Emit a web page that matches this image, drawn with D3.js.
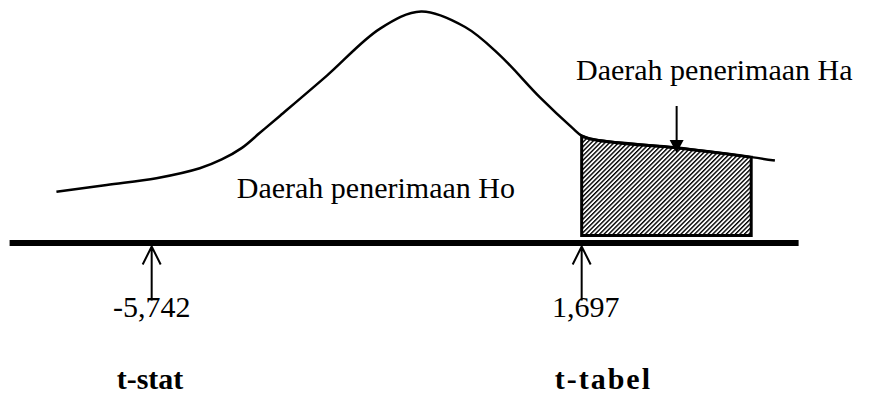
<!DOCTYPE html>
<html>
<head>
<meta charset="utf-8">
<script src="https://cdn.jsdelivr.net/npm/d3@7"></script>
<style>
    body { margin: 0; background: #fff; }
    text { font-family: "Liberation Serif", "Times New Roman", serif; fill: #000; }
</style>
</head>
<body>
<div id="chart"></div>
<script>
// curve of the t distribution sketch (t value, relative height)
var tValues = [-7.39, -6.52, -5.66, -4.91, -4.53, -4.18, -3.87, -3.52, -2.71, -1.79, -1.08, -0.32, 0.27, 0.98, 1.55, 1.697, 1.88, 3.34, 4.63, 5.04];
var density = [0.221, 0.251, 0.280, 0.323, 0.361, 0.411, 0.476, 0.55, 0.723, 0.926, 1.0, 0.933, 0.814, 0.628, 0.494, 0.463, 0.448, 0.411, 0.371, 0.356];

var markerT = [-5.742, 1.697];
var markerLabels = ["-5,742", "1,697"];
var markerTitles = ["t-stat", "t-tabel"];

var regionLabels = ["Daerah penerimaan Ho", "Daerah penerimaan Ha"];
var haRegion = [1.697, 4.63];
var haPointerT = 3.34;

var width = 879,
    height = 394;

var x = d3.scaleLinear()
    .domain([-8.2, 5.45])
    .range([9.6, 798.6]);

var y = d3.scaleLinear()
    .domain([0, 1])
    .range([243, 11.5]);

var points = tValues.map(function (t, i) {
    return { t: t, d: density[i] };
});

var svg = d3.select("#chart").append("svg")
    .attr("width", width)
    .attr("height", height);

// hatch for the Ha region
svg.append("defs").append("pattern")
    .attr("id", "hatch")
    .attr("patternUnits", "userSpaceOnUse")
    .attr("width", 3.2)
    .attr("height", 3.2)
    .attr("patternTransform", "rotate(45)")
    .append("line")
    .attr("x1", 0.7).attr("y1", 0)
    .attr("x2", 0.7).attr("y2", 3.2)
    .attr("stroke", "#000")
    .attr("stroke-width", 1.4);

// Ha region box, top follows the curve
var regionPts = points.filter(function (p) {
    return p.t >= haRegion[0] && p.t <= haRegion[1];
});
var area = d3.area()
    .x(function (d) { return x(d.t); })
    .y0(y(0) - 7.5)
    .y1(function (d) { return y(d.d); })
    .curve(d3.curveMonotoneX);

svg.append("path")
    .datum(regionPts)
    .attr("d", area)
    .attr("fill", "url(#hatch)")
    .attr("stroke", "#000")
    .attr("stroke-width", 3)
    .attr("stroke-linejoin", "miter");

// distribution curve
var line = d3.line()
    .x(function (d) { return x(d.t); })
    .y(function (d) { return y(d.d); })
    .curve(d3.curveCatmullRom.alpha(0.5));

svg.append("path")
    .datum(points)
    .attr("d", line)
    .attr("fill", "none")
    .attr("stroke", "#000")
    .attr("stroke-width", 2.5);

// horizontal axis
svg.append("line")
    .attr("x1", x.range()[0])
    .attr("x2", x.range()[1])
    .attr("y1", y(0))
    .attr("y2", y(0))
    .attr("stroke", "#000")
    .attr("stroke-width", 6);

// up arrows for t-stat and t-tabel
var marker = svg.selectAll(".marker")
    .data(markerT)
    .enter().append("g")
    .attr("class", "marker")
    .attr("transform", function (d) {
        return "translate(" + x(d) + "," + (y(0) + 3.5) + ")";
    });

marker.append("path")
    .attr("d", "M0,0L0,54M-9,18L0,0L9,18")
    .attr("fill", "none")
    .attr("stroke", "#000")
    .attr("stroke-width", 2);

marker.append("text")
    .attr("x", function (d, i) { return i === 0 ? 0 : 4; })
    .attr("y", 70)
    .attr("text-anchor", "middle")
    .style("font-size", "30px")
    .text(function (d, i) { return markerLabels[i]; });

marker.append("text")
    .attr("x", function (d, i) { return i === 0 ? -35 : -27; })
    .attr("y", 142)
    .style("font-size", "30px")
    .style("font-weight", "bold")
    .style("letter-spacing", function (d, i) { return i === 0 ? "0px" : "2px"; })
    .text(function (d, i) { return markerTitles[i]; });

// region labels
svg.append("text")
    .attr("x", x(-4.27))
    .attr("y", 198)
    .style("font-size", "30px")
    .text(regionLabels[0]);

svg.append("text")
    .attr("x", 576)
    .attr("y", 80)
    .style("font-size", "30px")
    .text(regionLabels[1]);

// pointer to the Ha region
var px = x(haPointerT);
svg.append("line")
    .attr("x1", px).attr("x2", px)
    .attr("y1", 106).attr("y2", 142)
    .attr("stroke", "#000")
    .attr("stroke-width", 2);
svg.append("path")
    .attr("d", "M" + (px - 7) + ",140L" + (px + 7) + ",140L" + px + ",153Z")
    .attr("fill", "#000");
</script>
</body>
</html>
